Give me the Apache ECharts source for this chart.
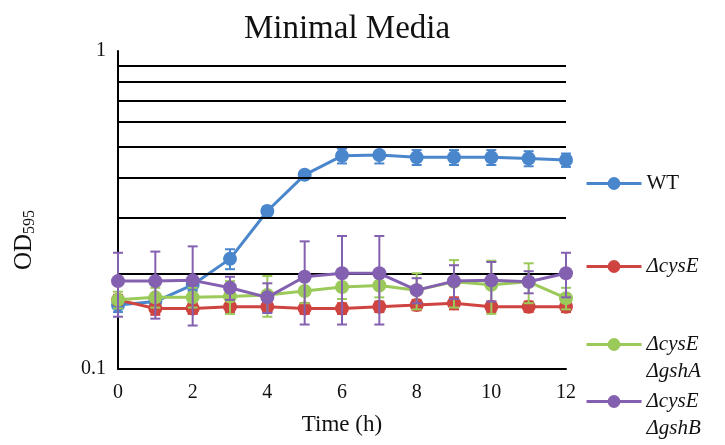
<!DOCTYPE html>
<html>
<head>
<meta charset="utf-8">
<script src="https://cdn.jsdelivr.net/npm/echarts@6/dist/echarts.min.js"></script>
<style>
  html, body { margin: 0; padding: 0; background: #fff; }
  #chart { width: 725px; height: 445px; }
</style>
</head>
<body>
<div id="chart"></div>
<script>
// Growth in minimal media: OD595 over 12 hours, log scale
const hours = [0, 1, 2, 3, 4, 5, 6, 7, 8, 9, 10, 11, 12];
const seriesNames = ['WT', 'ΔcysE', 'ΔcysE\nΔgshA', 'ΔcysE\nΔgshB'];

const wtOD     = [0.159, 0.163, 0.184, 0.222, 0.314, 0.408, 0.468, 0.471, 0.463, 0.463, 0.463, 0.459, 0.454];
const wtErr    = [0.008, 0.006, 0.008, 0.016, 0.010, 0.010, 0.025, 0.028, 0.025, 0.025, 0.025, 0.025, 0.022];

const cysEOD   = [0.165, 0.155, 0.155, 0.157, 0.157, 0.155, 0.155, 0.157, 0.159, 0.161, 0.157, 0.157, 0.157];
const cysEErr  = [0.006, 0.007, 0.006, 0.006, 0.006, 0.006, 0.006, 0.006, 0.006, 0.007, 0.006, 0.006, 0.006];

const gshAOD   = [0.165, 0.168, 0.168, 0.169, 0.171, 0.176, 0.181, 0.183, 0.177, 0.188, 0.184, 0.188, 0.167];
const gshAErr  = [0.010, 0.012, 0.012, 0.020, 0.025, 0.015, 0.015, 0.015, 0.023, 0.032, 0.035, 0.027, 0.013];

const gshBOD   = [0.189, 0.189, 0.190, 0.180, 0.168, 0.195, 0.200, 0.200, 0.177, 0.189, 0.190, 0.188, 0.200];
const gshBErr  = [0.043, 0.045, 0.053, 0.015, 0.018, 0.057, 0.062, 0.062, 0.016, 0.023, 0.027, 0.015, 0.032];

const gridValues = [0.2, 0.3, 0.4, 0.5, 0.6, 0.7, 0.8, 0.9];
const xTicks = { min: 0, max: 12, interval: 2 };

const colors = ['#4A86CC', '#CF4440', '#9BC95A', '#8460B0'];
const values = [wtOD, cysEOD, gshAOD, gshBOD];
const errors = [wtErr, cysEErr, gshAErr, gshBErr];

const serif = '"Liberation Serif", "DejaVu Serif", serif';

function errorBarItem(color) {
  return function (params, api) {
    const x = api.value(0), y = api.value(1), e = api.value(2);
    const hi = api.coord([x, y + e]);
    const lo = api.coord([x, y - e]);
    const cap = 5;
    const style = { stroke: color, lineWidth: 2 };
    return {
      type: 'group',
      children: [
        { type: 'line', shape: { x1: hi[0], y1: hi[1], x2: lo[0], y2: lo[1] }, style: style },
        { type: 'line', shape: { x1: hi[0] - cap, y1: hi[1], x2: hi[0] + cap, y2: hi[1] }, style: style },
        { type: 'line', shape: { x1: lo[0] - cap, y1: lo[1], x2: lo[0] + cap, y2: lo[1] }, style: style }
      ]
    };
  };
}

const series = [];
// horizontal reference lines at 0.2 ... 0.9
series.push({
  type: 'line',
  data: [],
  silent: true,
  markLine: {
    silent: true,
    symbol: 'none',
    label: { show: false },
    lineStyle: { color: '#000', width: 2, type: 'solid' },
    data: gridValues.map(v => ({ yAxis: v }))
  }
});

seriesNames.forEach((name, i) => {
  series.push({
    type: 'custom',
    name: name + ' err',
    renderItem: errorBarItem(colors[i]),
    data: hours.map((h, k) => [h, values[i][k], errors[i][k]]),
    encode: { x: 0, y: 1 },
    silent: true,
    z: 2 + i * 2
  });
  series.push({
    type: 'line',
    name: name,
    data: hours.map((h, k) => [h, values[i][k]]),
    symbol: 'circle',
    symbolSize: 14,
    lineStyle: { color: colors[i], width: 3 },
    itemStyle: { color: colors[i] },
    color: colors[i],
    z: 3 + i * 2
  });
});

function legendFor(name, top, twoLine) {
  return {
    data: [name],
    left: 585,
    top: top,
    orient: 'vertical',
    itemWidth: 55,
    itemHeight: 16,
    itemGap: 0,
    padding: 0,
    selectedMode: false,
    lineStyle: { width: 3 },
    formatter: function (n) {
      if (n === 'WT') return '{r|WT}';
      return n.split('\n').map(s => '{i|' + s + '}').join('\n');
    },
    textStyle: {
      padding: twoLine ? [27, 0, 0, 0] : 0,
      lineHeight: 27,
      rich: {
        r: { fontFamily: serif, fontSize: 21, color: '#111', lineHeight: 27 },
        i: { fontFamily: serif, fontSize: 21, fontStyle: 'italic', color: '#111', lineHeight: 27 }
      }
    }
  };
}

const chart = echarts.init(document.getElementById('chart'), null, { renderer: 'canvas' });
chart.setOption({
  animation: false,
  backgroundColor: '#fff',
  title: {
    text: 'Minimal Media',
    left: 342,
    textAlign: 'center',
    top: 8,
    textStyle: { fontFamily: serif, fontSize: 33, fontWeight: 'normal', color: '#111' }
  },
  legend: [
    legendFor('WT', 170, false),
    legendFor('ΔcysE', 253, false),
    legendFor('ΔcysE\nΔgshA', 304, true),
    legendFor('ΔcysE\nΔgshB', 361, true)
  ],
  grid: { left: 118, right: 159, top: 51, bottom: 76, containLabel: false },
  xAxis: {
    type: 'value',
    min: xTicks.min,
    max: xTicks.max,
    interval: xTicks.interval,
    name: 'Time (h)',
    nameLocation: 'middle',
    nameGap: 44,
    nameTextStyle: { fontFamily: serif, fontSize: 23, color: '#111' },
    axisLine: { show: true, lineStyle: { color: '#000', width: 2 } },
    axisTick: { show: false },
    splitLine: { show: false },
    axisLabel: { fontFamily: serif, fontSize: 20, color: '#111', margin: 14 }
  },
  yAxis: {
    type: 'log',
    logBase: 10,
    min: 0.1,
    max: 1,
    name: '{a|OD}{b|595}',
    nameLocation: 'middle',
    nameRotate: 90,
    nameGap: 80,
    nameTextStyle: {
      padding: [0, 60, 0, 0],
      rich: {
        a: { fontFamily: serif, fontSize: 25, color: '#111' },
        b: { fontFamily: serif, fontSize: 16, color: '#111', verticalAlign: 'bottom', padding: [12, 0, 0, 0] }
      }
    },
    axisLine: { show: true, lineStyle: { color: '#000', width: 2 } },
    axisTick: { show: false },
    splitLine: { show: false },
    minorTick: { show: false },
    axisLabel: { fontFamily: serif, fontSize: 20, color: '#111', margin: 12 }
  },
  series: series
});
</script>
</body>
</html>
